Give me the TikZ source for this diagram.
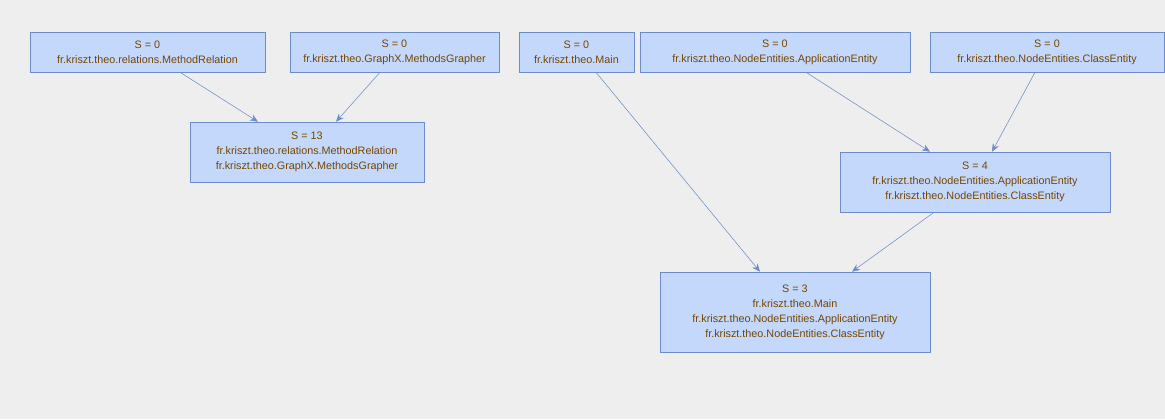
\documentclass[tikz,border=0pt]{standalone}
\usepackage{fontspec}
\setmainfont{Liberation Sans}
\usetikzlibrary{calc,arrows.meta}
\definecolor{bgray}{HTML}{EEEEEE}
\definecolor{boxfill}{HTML}{C4D8FC}
\definecolor{boxline}{HTML}{6C8CC8}
\definecolor{labtext}{HTML}{754500}
\tikzset{
  scc/.style={draw=boxline,fill=boxfill,rectangle,align=center,
    text=labtext,font=\fontsize{8.1}{11.25}\selectfont,inner sep=0pt},
  dep/.style={draw=boxline,-{Stealth[length=6pt,width=5pt]}}
}
\begin{document}
\begin{tikzpicture}[x=0.75pt,y=-0.75pt]
    % --- background, fixes the page ---
    \fill[bgray] (0,0) rectangle (1165,419);
    % --- top row ---
    \node[scc,minimum width=235*0.75pt,minimum height=40*0.75pt] (mrel) at (147.5,52)
      {S = 0\\fr.kriszt.theo.relations.MethodRelation};
    \node[scc,minimum width=209*0.75pt,minimum height=40*0.75pt] (mgra) at (394.5,52)
      {S = 0\\fr.kriszt.theo.GraphX.MethodsGrapher};
    \node[scc,minimum width=115*0.75pt,minimum height=40*0.75pt] (main) at (576.5,52)
      {S = 0\\fr.kriszt.theo.Main};
    \node[scc,minimum width=270*0.75pt,minimum height=40*0.75pt] (appe) at (775,52)
      {S = 0\\fr.kriszt.theo.NodeEntities.ApplicationEntity};
    \node[scc,minimum width=234*0.75pt,minimum height=40*0.75pt] (clse) at (1047,52)
      {S = 0\\fr.kriszt.theo.NodeEntities.ClassEntity};
    % --- merged components ---
    \node[scc,minimum width=234*0.75pt,minimum height=60*0.75pt] (s13) at (307,152)
      {S = 13\\fr.kriszt.theo.relations.MethodRelation\\fr.kriszt.theo.GraphX.MethodsGrapher};
    \node[scc,minimum width=270*0.75pt,minimum height=60*0.75pt] (s4) at (975,182)
      {S = 4\\fr.kriszt.theo.NodeEntities.ApplicationEntity\\fr.kriszt.theo.NodeEntities.ClassEntity};
    \node[scc,minimum width=270*0.75pt,minimum height=80*0.75pt] (s3) at (795,312)
      {S = 3\\fr.kriszt.theo.Main\\fr.kriszt.theo.NodeEntities.ApplicationEntity\\fr.kriszt.theo.NodeEntities.ClassEntity};
    % --- dependencies ---
    \draw[dep] ($(mrel.south)+(32.5,0)$) -- ($(s13.north)+(-49,0)$);
    \draw[dep] ($(mgra.south)+(-14.5,0)$) -- ($(s13.north)+(29,0)$);
    \draw[dep] ($(main.south)+(19.5,0)$) -- ($(s3.north)+(-35,0)$);
    \draw[dep] ($(appe.south)+(31,0)$) -- ($(s4.north)+(-45,0)$);
    \draw[dep] ($(clse.south)+(-12,0)$) -- ($(s4.north)+(17,0)$);
    \draw[dep] ($(s4.south)+(-41,0)$) -- ($(s3.north)+(57,0)$);
\end{tikzpicture}
\end{document}
